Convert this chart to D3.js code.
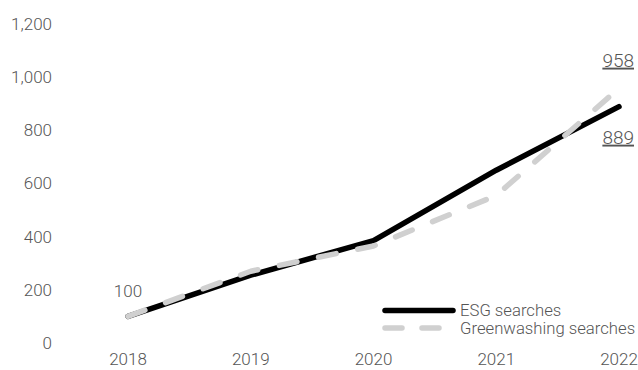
<!DOCTYPE html>
<html>
<head>
<meta charset="utf-8">
<script src="https://cdn.jsdelivr.net/npm/d3@7"></script>
<style>
  body { margin: 0; background: #fff; }
  text { font-family: Roboto, "Noto Sans", sans-serif; font-weight: 300; fill: #555; }
</style>
</head>
<body>
<div id="chart"></div>
<script>
var years = [2018, 2019, 2020, 2021, 2022];
var esgValues = [100, 255, 385, 650, 889];
var greenValues = [100, 270, 365, 555, 958];
var yTicks = [0, 200, 400, 600, 800, 1000, 1200];
var seriesNames = ["ESG searches", "Greenwashing searches"];

var width = 638,
    height = 370;

var svg = d3.select("#chart").append("svg")
    .attr("width", width)
    .attr("height", height);

var x = d3.scaleLinear().domain([2018, 2022]).range([128, 619]);
var y = d3.scaleLinear().domain([0, 1200]).range([343, 24]);

// y tick labels (no axis line)
svg.append("g").selectAll("text")
    .data(yTicks)
    .enter().append("text")
    .attr("x", 52)
    .attr("y", function(d) { return y(d); })
    .attr("dy", "0.35em")
    .attr("text-anchor", "end")
    .style("font-size", "17px")
    .text(d3.format(","));

// x tick labels
svg.append("g").selectAll("text")
    .data(years)
    .enter().append("text")
    .attr("x", function(d) { return x(d); })
    .attr("y", 359)
    .attr("dy", "0.35em")
    .attr("text-anchor", "middle")
    .style("font-size", "17px")
    .text(function(d) { return d; });

var line = d3.line()
    .x(function(d, i) { return x(years[i]); })
    .y(function(d) { return y(d); });

svg.append("path")
    .datum(esgValues)
    .attr("d", line)
    .attr("fill", "none")
    .attr("stroke", "#000")
    .attr("stroke-width", 5.5)
    .attr("stroke-linecap", "round")
    .attr("stroke-linejoin", "round");

svg.append("path")
    .datum(greenValues)
    .attr("d", line)
    .attr("fill", "none")
    .attr("stroke", "#d0d0d0")
    .attr("stroke-width", 5.5)
    .attr("stroke-dasharray", "18,22")
    .attr("stroke-linecap", "round")
    .attr("stroke-linejoin", "round");

// value annotations
svg.append("text")
    .attr("x", x(2018))
    .attr("y", y(200) + 1)
    .attr("dy", "0.35em")
    .attr("text-anchor", "middle")
    .style("font-size", "17px")
    .text(esgValues[0]);

svg.append("text")
    .attr("x", 634)
    .attr("y", 60)
    .attr("dy", "0.35em")
    .attr("text-anchor", "end")
    .style("font-size", "19px")
    .style("text-decoration", "underline")
    .text(greenValues[4]);

svg.append("text")
    .attr("x", 634)
    .attr("y", 137)
    .attr("dy", "0.35em")
    .attr("text-anchor", "end")
    .style("font-size", "19px")
    .style("text-decoration", "underline")
    .text(esgValues[4]);

// legend
var legend = svg.append("g");
legend.append("line")
    .attr("x1", 385).attr("x2", 453)
    .attr("y1", 310.5).attr("y2", 310.5)
    .attr("stroke", "#000")
    .attr("stroke-width", 5.5)
    .attr("stroke-linecap", "round");
legend.append("line")
    .attr("x1", 385).attr("x2", 441)
    .attr("y1", 328).attr("y2", 328)
    .attr("stroke", "#d0d0d0")
    .attr("stroke-width", 5.5)
    .attr("stroke-dasharray", "17,20")
    .attr("stroke-linecap", "round");
legend.selectAll("text")
    .data(seriesNames)
    .enter().append("text")
    .attr("x", 460)
    .attr("y", function(d, i) { return 310.5 + i * 17.5; })
    .attr("dy", "0.35em")
    .style("font-size", "16.7px")
    .text(function(d) { return d; });
</script>
</body>
</html>
